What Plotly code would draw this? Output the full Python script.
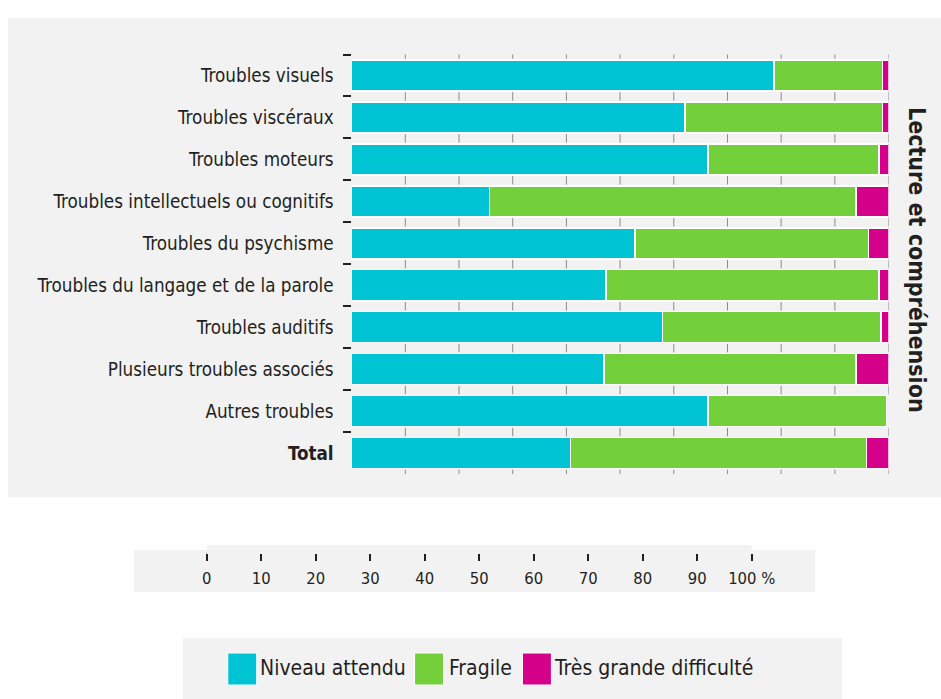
import plotly.graph_objects as go

# ── Data ──────────────────────────────────────────────────────────────────────
categories = [
    "Troubles visuels",
    "Troubles viscéraux",
    "Troubles moteurs",
    "Troubles intellectuels ou cognitifs",
    "Troubles du psychisme",
    "Troubles du langage et de la parole",
    "Troubles auditifs",
    "Plusieurs troubles associés",
    "Autres troubles",
    "Total",
]
niveau_attendu = [78.7, 62.1, 66.4, 25.7, 52.8, 47.4, 57.9, 47.0, 66.4, 40.8]
fragile = [20.2, 36.8, 31.8, 68.2, 43.5, 50.8, 40.7, 46.9, 33.2, 55.1]
tres_grande_difficulte = [1.1, 1.1, 1.8, 6.1, 3.7, 1.8, 1.4, 6.1, 0.0, 4.1]

scale_ticks = [0, 10, 20, 30, 40, 50, 60, 70, 80, 90, 100]
scale_labels = ["0", "10", "20", "30", "40", "50", "60", "70", "80", "90", "100 %"]

series_names = ["Niveau attendu", "Fragile", "Très grande difficulté"]
COLORS = ["#00c3d3", "#73cf3a", "#d4008a"]

# ── Geometry helpers (pixel -> paper, margins are zero) ──────────────────────
# the page ends up slightly narrower than the layout width, hence 969 / -5
W, H = 941, 699
FIG_W = 969
X_SHIFT = -5
FONT = "DejaVu Sans Condensed, Liberation Sans Narrow, sans-serif"
TEXT = "#231f20"
BG = "#f2f2f2"


def px(x):
    return (x + X_SHIFT) / W


def py(y):
    return 1 - y / H


labels = [f"<b>{c}</b>" if c == "Total" else c for c in categories]

fig = go.Figure()

for name, vals, col in zip(series_names, [niveau_attendu, fragile, tres_grande_difficulte], COLORS):
    fig.add_trace(go.Bar(
        x=vals, y=labels,
        orientation="h",
        name=name,
        marker=dict(color=col, line=dict(color="white", width=1.5)),
        showlegend=False,
        hovertemplate="%{y}: %{x:.1f} %<extra>" + name + "</extra>",
    ))

# small vertical ticks every 10 % on each row boundary
n = len(categories)
bounds = [i - 0.5 for i in range(n + 1)]
tx, ty = [], []
for b in bounds:
    for t in scale_ticks[1:]:
        tx.append(t)
        ty.append(b)
fig.add_trace(go.Scatter(
    x=tx, y=ty, yaxis="y2",
    mode="markers",
    marker=dict(symbol="line-ns", size=6, line=dict(color="#8a8a8a", width=1)),
    showlegend=False, hoverinfo="skip",
))

# ── Background panels ─────────────────────────────────────────────────────────
shapes = [
    dict(type="rect", xref="paper", yref="paper", layer="below",
         x0=px(8), x1=1.02, y0=py(497), y1=py(18), fillcolor=BG, line_width=0),
    dict(type="rect", xref="paper", yref="paper", layer="below",
         x0=px(134), x1=px(816), y0=py(592), y1=py(550), fillcolor=BG, line_width=0),
    dict(type="rect", xref="paper", yref="paper", layer="below",
         x0=px(183), x1=px(843), y0=py(699), y1=py(638), fillcolor=BG, line_width=0),
    # little hook at the "0" of the scale
    dict(type="line", xref="x2", yref="paper", x0=-1.3, x1=0, y0=py(553), y1=py(553),
         line=dict(color=TEXT, width=2)),
]

# manual legend with large swatches
annotations = []
legend_items = [(228, 258), (415, 447), (523, 553)]
for (sx, tx0), name, col in zip(legend_items, series_names, COLORS):
    shapes.append(dict(type="rect", xref="paper", yref="paper",
                       x0=px(sx), x1=px(sx + 29), y0=py(685), y1=py(653),
                       fillcolor=col, line=dict(color="white", width=1)))
    annotations.append(dict(text=name, xref="paper", yref="paper",
                            x=px(tx0), y=py(668), xanchor="left", yanchor="middle",
                            showarrow=False, font=dict(size=21, color=TEXT)))

annotations.append(dict(
    text="<b>Lecture et compréhension</b>", xref="paper", yref="paper",
    x=px(918), y=py(260), textangle=90, showarrow=False,
    xanchor="center", yanchor="middle", font=dict(size=23, color=TEXT),
))

fig.update_layout(
    width=FIG_W, height=H,
    autosize=False,
    margin=dict(l=0, r=0, t=0, b=0, pad=0),
    paper_bgcolor="white",
    plot_bgcolor=BG,
    barmode="stack",
    bargap=0.26,
    font=dict(family=FONT, color=TEXT, size=18),
    shapes=shapes,
    annotations=annotations,
    xaxis=dict(
        domain=[px(352), px(889.5)], range=[0, 100],
        showgrid=False, zeroline=False, showticklabels=False, ticks="",
        fixedrange=True,
    ),
    yaxis=dict(
        domain=[py(474), py(54.5)],
        type="category", range=[n - 0.5, -0.5],
        tickson="boundaries", ticks="outside", ticklen=8, tickwidth=2,
        tickcolor=TEXT, showgrid=False, ticklabelstandoff=17,
        tickfont=dict(size=18.7, color=TEXT), fixedrange=True,
    ),
    yaxis2=dict(
        overlaying="y", range=[n - 0.5, -0.5], visible=False, fixedrange=True,
    ),
    # detached percentage scale under the chart
    xaxis2=dict(
        domain=[px(207), px(752.5)], range=[0, 100], anchor="y3",
        tickvals=scale_ticks, ticktext=scale_labels,
        ticks="outside", ticklen=7, tickwidth=2, tickcolor=TEXT,
        showgrid=False, zeroline=False, showline=False, ticklabelstandoff=3,
        tickfont=dict(size=16.5, color=TEXT), fixedrange=True,
    ),
    yaxis3=dict(domain=[py(553), py(545)], visible=False, fixedrange=True),
)

fig.write_html(
    "out.html",
    config={"displayModeBar": False, "responsive": False},
    post_script=(
        "document.documentElement.style.overflow='hidden';"
        "document.body.style.overflow='hidden';"
        "document.body.style.margin='0';"
    ),
)
